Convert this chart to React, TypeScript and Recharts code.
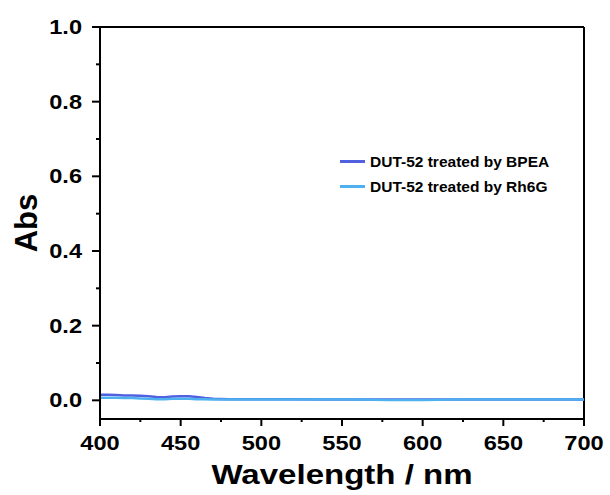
import { LineChart, Line, XAxis, YAxis, ReferenceLine } from 'recharts'

const wavelengths = [400, 405, 410, 415, 420, 425, 430, 435, 440, 445, 450, 455, 460, 465, 470, 480, 500, 520, 540, 560, 580, 600, 620, 640, 660, 680, 700]
const bpea = [0.015, 0.015, 0.014, 0.013, 0.013, 0.012, 0.011, 0.009, 0.008, 0.010, 0.011, 0.011, 0.009, 0.006, 0.004, 0.003, 0.003, 0.003, 0.002, 0.002, 0.002, 0.002, 0.002, 0.002, 0.002, 0.002, 0.002]
const rh6g = [0.007, 0.007, 0.007, 0.006, 0.006, 0.005, 0.004, 0.003, 0.003, 0.004, 0.004, 0.004, 0.003, 0.003, 0.002, 0.002, 0.002, 0.002, 0.002, 0.002, 0.001, 0.001, 0.002, 0.002, 0.002, 0.002, 0.002]
const xTicks = [400, 425, 450, 475, 500, 525, 550, 575, 600, 625, 650, 675, 700]
const yTicks = [0, 0.1, 0.2, 0.3, 0.4, 0.5, 0.6, 0.7, 0.8, 0.9, 1.0]
const seriesNames = ['DUT-52 treated by BPEA', 'DUT-52 treated by Rh6G']
const seriesColors = ['#5060e0', '#4fb0f0']

const data = wavelengths.map((w, i) => ({ w, bpea: bpea[i], rh6g: rh6g[i] }))

const font = '"Liberation Sans", Arial, sans-serif'
// the source figure is a bit stretched sideways
const stretch = 1.18

function XTick({ x, y, payload }: any) {
  const major = payload.value % 50 === 0
  return (
    <g>
      <line x1={x} x2={x} y1={y - 8} y2={y - 8 + (major ? 7 : 3)} stroke='#000' strokeWidth={2} />
      {major && (
        <text transform={`translate(${x},${y + 23}) scale(${stretch},1)`} textAnchor='middle' fontSize={20} fontWeight='bold' fontFamily={font} fill='#000'>
          {payload.value}
        </text>
      )}
    </g>
  )
}

function YTick({ x, y, payload }: any) {
  const major = Math.round(payload.value * 10) % 2 === 0
  return (
    <g>
      <line x1={x + 8} x2={x + 8 - (major ? 8 : 4)} y1={y} y2={y} stroke='#000' strokeWidth={2} />
      {major && (
        <text transform={`translate(${x - 10},${y + 7}) scale(${stretch},1)`} textAnchor='end' fontSize={20} fontWeight='bold' fontFamily={font} fill='#000'>
          {payload.value.toFixed(1)}
        </text>
      )}
    </g>
  )
}

function XTitle({ viewBox }: any) {
  const cx = viewBox.x + viewBox.width / 2
  return (
    <text transform={`translate(${cx},${viewBox.y + 65}) scale(${stretch},1)`} textAnchor='middle' fontSize={28} fontWeight='bold' fontFamily={font} fill='#000'>
      Wavelength / nm
    </text>
  )
}

function YTitle({ viewBox }: any) {
  const cy = viewBox.y + viewBox.height / 2
  return (
    <text transform={`translate(37,${cy}) rotate(-90)`} textAnchor='middle' fontSize={31} fontWeight='bold' fontFamily={font} fill='#000'>
      Abs
    </text>
  )
}

function LegendBox() {
  return (
    <div style={{ position: 'absolute', left: 340, top: 149, fontFamily: font, fontWeight: 'bold', fontSize: 15.5 }}>
      {seriesNames.map((n, i) => (
        <div key={n} style={{ display: 'flex', alignItems: 'center', height: 25 }}>
          <span style={{ display: 'inline-block', width: 25, height: 3, background: seriesColors[i], marginRight: 5 }} />
          <span>{n}</span>
        </div>
      ))}
    </div>
  )
}

export default function App() {
  return (
    <div style={{ position: 'absolute', left: 0, top: 0, width: 610, height: 495, background: '#fff' }}>
      <LineChart width={610} height={495} data={data} margin={{ top: 27, right: 26, bottom: 0, left: 0 }}>
        <XAxis
          dataKey='w'
          type='number'
          domain={[400, 700]}
          ticks={xTicks}
          tick={<XTick />}
          tickLine={false}
          axisLine={{ stroke: '#000', strokeWidth: 2 }}
          height={76}
          interval={0}
          label={<XTitle />}
        />
        <YAxis
          type='number'
          domain={[-0.05, 1.0]}
          ticks={yTicks}
          tick={<YTick />}
          tickLine={false}
          axisLine={{ stroke: '#000', strokeWidth: 2 }}
          width={100}
          interval={0}
          label={<YTitle />}
        />
        <ReferenceLine y={1.0} stroke='#000' strokeWidth={2} />
        <ReferenceLine x={700} stroke='#000' strokeWidth={2} />
        <Line dataKey='bpea' stroke={seriesColors[0]} strokeWidth={2.5} dot={false} isAnimationActive={false} />
        <Line dataKey='rh6g' stroke={seriesColors[1]} strokeWidth={2.5} dot={false} isAnimationActive={false} />
      </LineChart>
      <LegendBox />
    </div>
  )
}
